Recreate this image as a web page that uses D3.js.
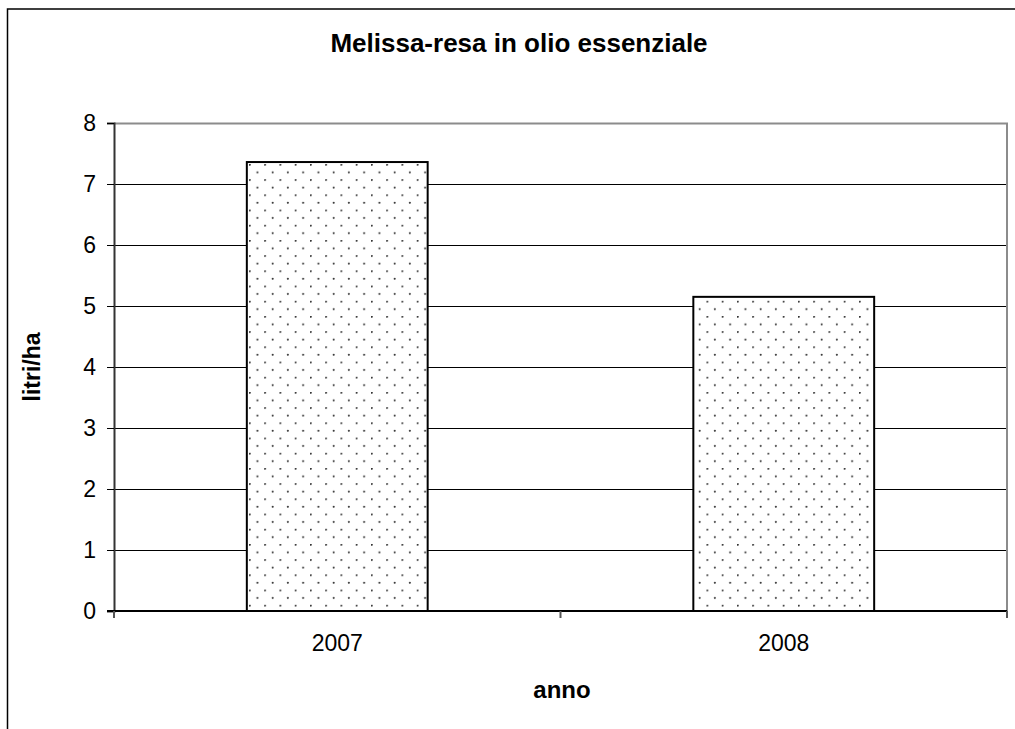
<!DOCTYPE html>
<html>
<head>
<meta charset="utf-8">
<script src="https://cdn.jsdelivr.net/npm/d3@7"></script>
<style>
  html, body { margin: 0; padding: 0; background: #fff; }
  svg { display: block; font-family: "Liberation Sans", Arial, sans-serif; }
</style>
</head>
<body>
<svg id="chart" width="1015" height="729"></svg>
<script>
// Yield of lemon balm essential oil per hectare, by year
const years = ["2007", "2008"];
const yieldValues = [7.36, 5.15];
const yTicks = [0, 1, 2, 3, 4, 5, 6, 7, 8];
const chartTitle = "Melissa-resa in olio essenziale";
const xTitle = "anno";
const yTitle = "litri/ha";

const svg = d3.select("#chart");
const plot = { left: 114, top: 123, right: 1007, bottom: 611 };

// Dotted fill used by the bars
const defs = svg.append("defs");
const pat = defs.append("pattern")
  .attr("id", "dots")
  .attr("patternUnits", "userSpaceOnUse")
  .attr("width", 15.25).attr("height", 15.2)
  .attr("x", 249).attr("y", 164);
pat.append("rect").attr("width", 15.25).attr("height", 15.2).attr("fill", "#fff");
pat.append("circle").attr("cx", 0.8).attr("cy", 0.8).attr("r", 1).attr("fill", "#333");
pat.append("circle").attr("cx", 8.4).attr("cy", 8.4).attr("r", 1).attr("fill", "#333");

// Outer chart frame (runs off the right and bottom edges)
svg.append("rect")
  .attr("x", 7.5).attr("y", 9)
  .attr("width", 1100).attr("height", 900)
  .attr("fill", "#fff").attr("stroke", "#000").attr("stroke-width", 1.5);

const x = d3.scaleBand()
  .domain(years)
  .range([plot.left, plot.right])
  .paddingInner(0.595)
  .paddingOuter(0.2975);

const y = d3.scaleLinear()
  .domain([0, 8])
  .range([plot.bottom, plot.top]);

// Horizontal gridlines
svg.append("g")
  .selectAll("line")
  .data(yTicks.filter(t => t > 0 && t < 8))
  .join("line")
  .attr("x1", plot.left).attr("x2", plot.right)
  .attr("y1", d => Math.round(y(d)) + 0.5).attr("y2", d => Math.round(y(d)) + 0.5)
  .attr("stroke", "#000").attr("stroke-width", 1);

// Plot area border (top and right)
svg.append("path")
  .attr("d", `M${plot.left},${plot.top + 0.5}H${plot.right}V${plot.bottom}`)
  .attr("fill", "none").attr("stroke", "#8c8c8c").attr("stroke-width", 2);

// Bars
svg.append("g")
  .selectAll("rect")
  .data(years.map((yr, i) => ({ yr, v: yieldValues[i] })))
  .join("rect")
  .attr("x", d => x(d.yr))
  .attr("y", d => y(d.v))
  .attr("width", x.bandwidth())
  .attr("height", d => y(0) - y(d.v))
  .attr("fill", "url(#dots)")
  .attr("stroke", "#000").attr("stroke-width", 2);

// Y axis
const yAxis = svg.append("g")
  .attr("transform", `translate(${plot.left},0)`)
  .call(d3.axisLeft(y).tickValues(yTicks).tickSize(7).tickPadding(11).tickFormat(d3.format("d")));
yAxis.select(".domain").attr("stroke", "#333").attr("stroke-width", 2);
yAxis.selectAll(".tick line").attr("stroke", "#000");
yAxis.selectAll(".tick text")
  .attr("font-size", 23).attr("fill", "#000")
  .attr("font-family", "'Liberation Sans', Arial, sans-serif");

// X axis with ticks at category boundaries
const xAxisG = svg.append("g").attr("transform", `translate(0,${plot.bottom})`);
xAxisG.append("line")
  .attr("x1", plot.left - 7).attr("x2", plot.right)
  .attr("stroke", "#000").attr("stroke-width", 2);
const boundaries = [plot.left, plot.left + (plot.right - plot.left) / 2, plot.right];
xAxisG.selectAll("line.tk")
  .data(boundaries)
  .join("line").attr("class", "tk")
  .attr("x1", d => d).attr("x2", d => d)
  .attr("y1", 0).attr("y2", 7)
  .attr("stroke", "#555").attr("stroke-width", 2);
xAxisG.selectAll("text")
  .data(years)
  .join("text")
  .attr("x", d => x(d) + x.bandwidth() / 2)
  .attr("y", 40)
  .attr("text-anchor", "middle")
  .attr("font-size", 23)
  .text(d => d);

// Titles
svg.append("text")
  .attr("x", 519).attr("y", 52)
  .attr("text-anchor", "middle")
  .attr("font-size", 26).attr("font-weight", "bold")
  .text(chartTitle);

svg.append("text")
  .attr("x", 562).attr("y", 698)
  .attr("text-anchor", "middle")
  .attr("font-size", 24).attr("font-weight", "bold")
  .text(xTitle);

svg.append("text")
  .attr("transform", "translate(40,367) rotate(-90)")
  .attr("text-anchor", "middle")
  .attr("font-size", 23).attr("font-weight", "bold")
  .text(yTitle);
</script>
</body>
</html>
